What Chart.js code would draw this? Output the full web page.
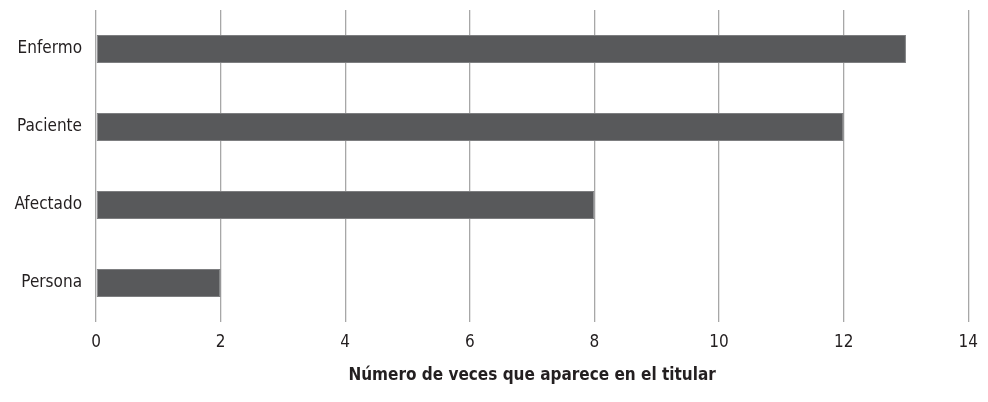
<!DOCTYPE html>
<html>
<head>
<meta charset="utf-8">
<script src="https://cdn.jsdelivr.net/npm/chart.js@4"></script>
<style>
  html, body { margin: 0; padding: 0; background: #fff; }
  #wrap { width: 988px; height: 402px; }
</style>
</head>
<body>
<div id="wrap"><canvas id="wordsChart" width="988" height="402"></canvas></div>
<script>
  // data
  const terms = ['Enfermo', 'Paciente', 'Afectado', 'Persona'];
  const counts = [13, 12, 8, 2];
  const xTicks = [0, 2, 4, 6, 8, 10, 12, 14];
  const axisTitle = 'Número de veces que aparece en el titular';

  const fontFamily = "'Liberation Sans Narrow', 'DejaVu Sans Condensed', 'Open Sans', sans-serif";
  const textColor = '#231f20';

  const wordsData = {
    labels: terms,
    datasets: [{
      data: counts,
      backgroundColor: '#58595b',
      borderColor: '#7d7e80',
      borderWidth: 1,
      borderSkipped: false,
      barPercentage: 0.72,
      categoryPercentage: 0.5
    }]
  };

  const wordsOptions = {
    indexAxis: 'y',
    responsive: false,
    animation: false,
    layout: { padding: { top: 10, right: 18, bottom: 0, left: 0 } },
    plugins: {
      legend: { display: false },
      tooltip: { enabled: false }
    },
    scales: {
      x: {
        min: 0,
        max: 14,
        afterBuildTicks: (axis) => { axis.ticks = xTicks.map(v => ({ value: v })); },
        afterFit: (axis) => { axis.height = 80; },
        border: { display: false },
        grid: { color: '#a7a7a7', lineWidth: 1.3, drawTicks: false },
        ticks: { color: textColor, padding: 10, font: { family: fontFamily, size: 17 } },
        title: {
          display: true,
          text: axisTitle,
          color: textColor,
          padding: { top: 0, bottom: 16 },
          font: { family: fontFamily, size: 17, weight: 'bold' }
        }
      },
      y: {
        afterFit: (axis) => {
          axis.width = 96;
          axis.paddingTop = 0;
          axis.paddingBottom = 0;
        },
        border: { display: false },
        grid: { display: false, drawTicks: false },
        ticks: { color: textColor, padding: 14, font: { family: fontFamily, size: 17 } }
      }
    }
  };

  const wordsChart = new Chart(document.getElementById('wordsChart'), {
    type: 'bar',
    data: wordsData,
    options: wordsOptions
  });
</script>
</body>
</html>
